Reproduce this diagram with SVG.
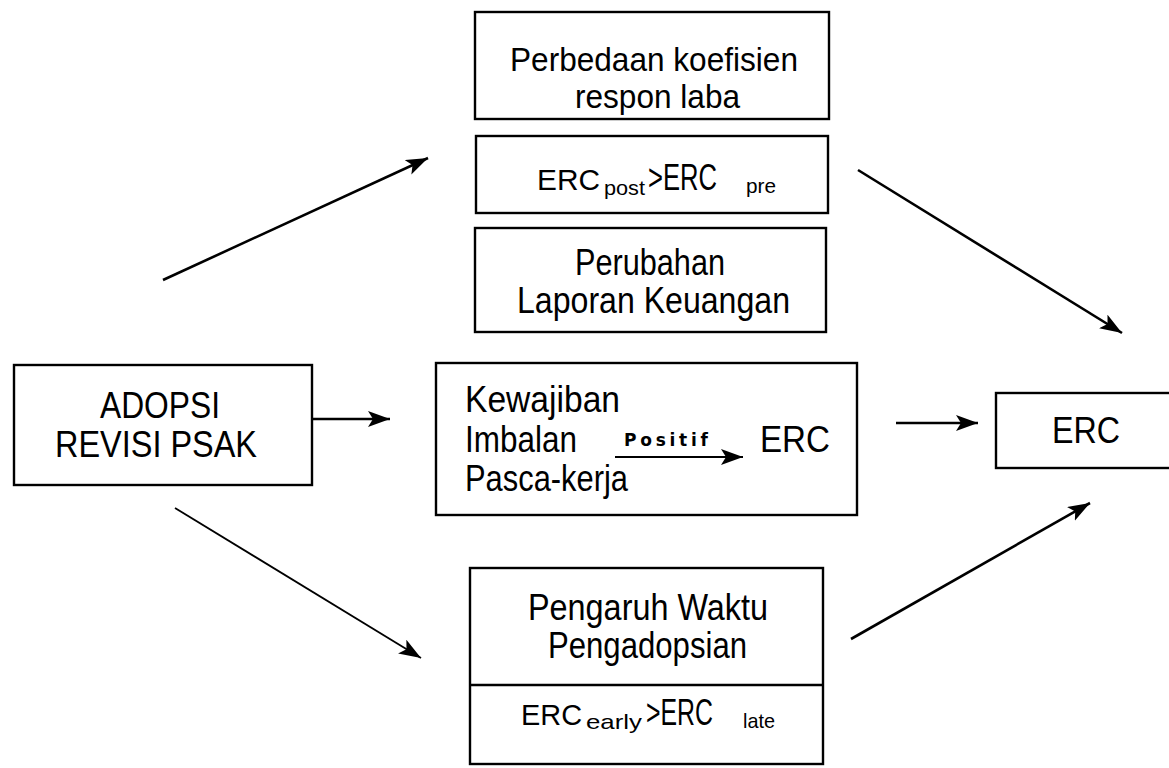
<svg xmlns="http://www.w3.org/2000/svg" width="1169" height="768" viewBox="0 0 1169 768">
<style>
.box{fill:#fff;stroke:#000;stroke-width:2.4}
.t{font-family:"Liberation Sans",Arial,sans-serif;font-size:36px;fill:#000}
.t2{font-family:"Liberation Sans",Arial,sans-serif;font-size:33px;fill:#000}
.s{font-size:21px}
.e{font-size:30px}
.b{font-family:"DejaVu Sans","Liberation Sans",sans-serif;font-size:17px;font-weight:bold;fill:#000}
.c{fill:none;stroke:#000;stroke-width:2.6}
.c2{fill:none;stroke:#000;stroke-width:1.8}
</style>
<defs>
<marker id="ah" markerUnits="userSpaceOnUse" markerWidth="24" markerHeight="18" refX="22" refY="8" orient="auto">
<path d="M0,0 L22,8 L0,16 L5,8 z" fill="#000"/>
</marker>
</defs>
<rect width="1169" height="768" fill="#fff"/>
<g id="connectors">
<line class="c" x1="163" y1="280" x2="428" y2="158" marker-end="url(#ah)"/>
<line class="c" x1="858" y1="170" x2="1122" y2="333" marker-end="url(#ah)"/>
<line class="c" x1="312" y1="419" x2="390" y2="419" marker-end="url(#ah)"/>
<line class="c" x1="896" y1="423" x2="978" y2="423" marker-end="url(#ah)"/>
<line class="c2" x1="175" y1="508" x2="421" y2="658" marker-end="url(#ah)"/>
<line class="c" x1="851" y1="639" x2="1090" y2="503" marker-end="url(#ah)"/>
</g>
<g id="node-perbedaan">
<rect class="box" x="475" y="12" width="354" height="107"/>
<text class="t2" x="510" y="71" textLength="288" lengthAdjust="spacingAndGlyphs">Perbedaan koefisien</text>
<text class="t2" x="575" y="108" textLength="165" lengthAdjust="spacingAndGlyphs">respon laba</text>
</g>
<g id="node-erc-post-pre">
<rect class="box" x="476" y="136" width="352" height="77"/>
<text class="t"><tspan class="e" x="537" y="190" textLength="63" lengthAdjust="spacingAndGlyphs">ERC</tspan><tspan class="s" x="604" y="195" textLength="41" lengthAdjust="spacingAndGlyphs">post</tspan><tspan x="648" y="190" textLength="69" lengthAdjust="spacingAndGlyphs">&gt;ERC</tspan><tspan class="s" x="746" y="193" textLength="30" lengthAdjust="spacingAndGlyphs">pre</tspan></text>
</g>
<g id="node-perubahan">
<rect class="box" x="475" y="228" width="351" height="104"/>
<text class="t" x="575" y="275" textLength="150" lengthAdjust="spacingAndGlyphs">Perubahan</text>
<text class="t" x="517" y="313" textLength="273" lengthAdjust="spacingAndGlyphs">Laporan Keuangan</text>
</g>
<g id="node-adopsi">
<rect class="box" x="14" y="365" width="298" height="120"/>
<text class="t" x="100" y="418" textLength="120" lengthAdjust="spacingAndGlyphs">ADOPSI</text>
<text class="t" x="55" y="457" textLength="202" lengthAdjust="spacingAndGlyphs">REVISI PSAK</text>
</g>
<g id="node-kewajiban">
<rect class="box" x="436" y="363" width="421" height="152"/>
<text class="t" x="465" y="412" textLength="155" lengthAdjust="spacingAndGlyphs">Kewajiban</text>
<text class="t" x="465" y="452" textLength="112" lengthAdjust="spacingAndGlyphs">Imbalan</text>
<text class="t" x="465" y="491" textLength="163" lengthAdjust="spacingAndGlyphs">Pasca-kerja</text>
<text class="b" x="624" y="446" textLength="84" lengthAdjust="spacing">Positif</text>
<line class="c2" x1="615" y1="457" x2="743" y2="457" marker-end="url(#ah)"/>
<text class="t" x="760" y="452" textLength="70" lengthAdjust="spacingAndGlyphs">ERC</text>
</g>
<g id="node-erc">
<rect class="box" x="996" y="393" width="190" height="75"/>
<text class="t" x="1052" y="443" textLength="68" lengthAdjust="spacingAndGlyphs">ERC</text>
</g>
<g id="node-pengaruh">
<rect class="box" x="470" y="568" width="353" height="196"/>
<line class="c" x1="470" y1="685" x2="823" y2="685"/>
<text class="t" x="528" y="620" textLength="240" lengthAdjust="spacingAndGlyphs">Pengaruh Waktu</text>
<text class="t" x="548" y="658" textLength="199" lengthAdjust="spacingAndGlyphs">Pengadopsian</text>
<text class="t"><tspan class="e" x="521" y="725" textLength="61" lengthAdjust="spacingAndGlyphs">ERC</tspan><tspan class="s" x="586" y="729" textLength="56" lengthAdjust="spacingAndGlyphs">early</tspan><tspan x="646" y="725" textLength="67" lengthAdjust="spacingAndGlyphs">&gt;ERC</tspan><tspan class="s" x="743" y="728" textLength="32" lengthAdjust="spacingAndGlyphs">late</tspan></text>
</g>
</svg>
